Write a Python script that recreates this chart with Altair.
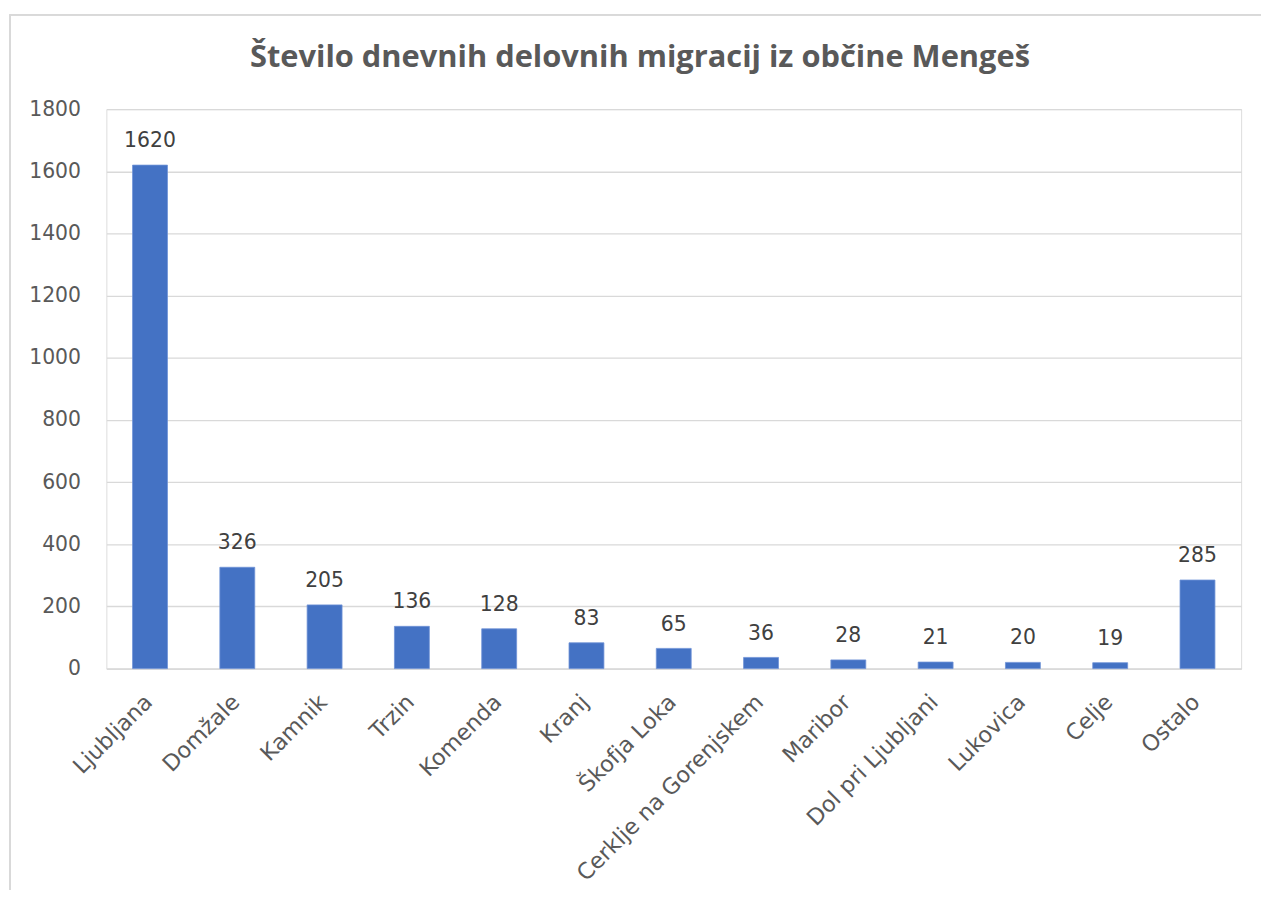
import altair as alt
import pandas as pd

categories = ["Ljubljana", "Domžale", "Kamnik", "Trzin", "Komenda", "Kranj",
              "Škofja Loka", "Cerklje na Gorenjskem", "Maribor", "Dol pri Ljubljani",
              "Lukovica", "Celje", "Ostalo"]
values = [1620, 326, 205, 136, 128, 83, 65, 36, 28, 21, 20, 19, 285]
title_text = "Število dnevnih delovnih migracij iz občine Mengeš"
y_ticks = [0, 200, 400, 600, 800, 1000, 1200, 1400, 1600, 1800]

df = pd.DataFrame({"kraj": categories, "st": values})

FONT = "DejaVu Sans"
FS = 20.5
W, H = 1142, 563

x_enc = alt.X("kraj:N", sort=categories, title=None,
              scale=alt.Scale(paddingInner=0.6, paddingOuter=0.3),
              axis=alt.Axis(labelAngle=-45, labelAlign="right", labelBaseline="top",
                            labelFont=FONT, labelFontSize=22.5, labelColor="#595959",
                            labelPadding=22, labelOffset=-9, ticks=False, domainColor="#d9d9d9",
                            domainWidth=1.3, grid=False, labelOverlap=False,
                            labelLimit=0))
y_enc = alt.Y("st:Q", title=None,
              scale=alt.Scale(domain=[0, 1800], nice=False),
              axis=alt.Axis(values=y_ticks, format="d", labelFont=FONT, labelFontSize=FS,
                            labelColor="#595959", labelPadding=26, ticks=False,
                            domain=False, gridColor="#d9d9d9", gridWidth=1.3))

base = alt.Chart(df)
bars = base.mark_bar(color="#4472C4", stroke="#6f93d6", strokeWidth=0.8).encode(x=x_enc, y=y_enc)
labels = base.mark_text(font=FONT, fontSize=FS, color="#404040", baseline="alphabetic", dy=-18).encode(
    x=alt.X("kraj:N", sort=categories), y=alt.Y("st:Q"), text=alt.Text("st:Q"))

title_df = pd.DataFrame({"t": [title_text]})
title_mark = alt.Chart(title_df).mark_text(
    font="Open Sans", fontSize=31, fontWeight="bold", color="#595959",
    align="center", baseline="alphabetic").encode(
    x=alt.value(537), y=alt.value(-42), text="t:N")

frame_left = alt.Chart(df).mark_rule(color="#d9d9d9", strokeWidth=1.5).encode(
    x=alt.value(-97), y=alt.value(-95), y2=alt.value(H + 240))
frame_top = alt.Chart(df).mark_rule(color="#d9d9d9", strokeWidth=1.5).encode(
    x=alt.value(-97), x2=alt.value(W + 40), y=alt.value(-95))

chart = alt.layer(frame_left, frame_top, bars, labels, title_mark).properties(
    width=W, height=H,
    autosize=alt.AutoSizeParams(type="none"),
    padding={"left": 99, "top": 99, "right": 20, "bottom": 220},
).configure_view(stroke=None).configure(background="white")

chart.save("out.html", embed_options={"renderer": "svg", "actions": False})
